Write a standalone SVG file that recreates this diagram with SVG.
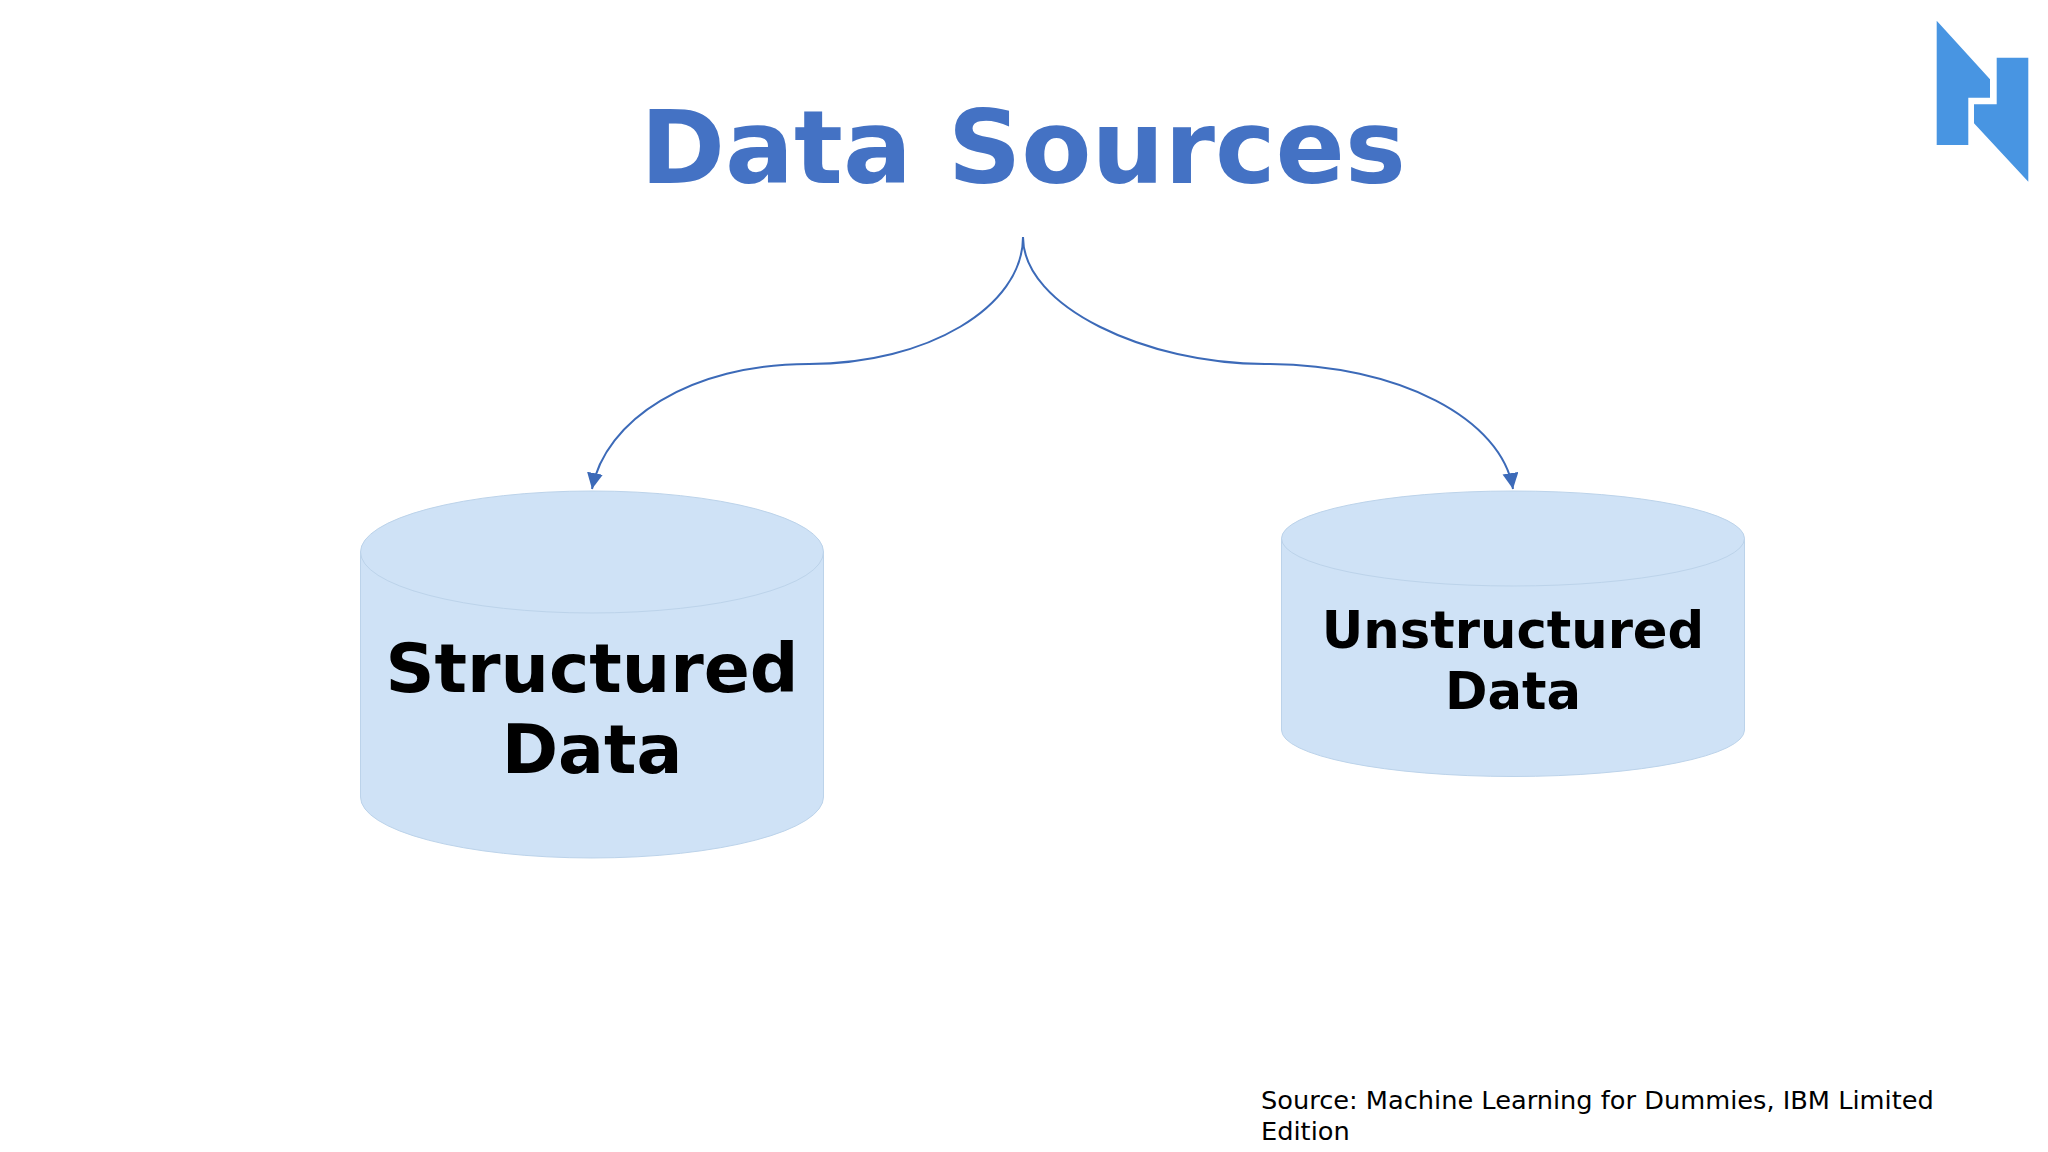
<svg xmlns="http://www.w3.org/2000/svg" width="2048" height="1152" viewBox="0 0 2048 1152">
<style>
.cyl{fill:#cfe2f6;stroke:#bcd3ea;stroke-width:1}
.lbl{font-family:"DejaVu Sans",sans-serif;font-weight:700;fill:#000;text-anchor:middle}
.conn{fill:none;stroke:#3c6ab8;stroke-width:2}
</style>
<defs>
<marker id="arr" markerUnits="userSpaceOnUse" markerWidth="20" markerHeight="20" refX="16" refY="8" orient="auto"><path d="M0 0L16 8L0 16Z" fill="#3c6ab8"/></marker>
</defs>
<rect width="2048" height="1152" fill="#fff"/>
<text id="title" x="1023" y="183" font-family="'DejaVu Sans',sans-serif" font-weight="700" font-size="102.300" fill="#4472c4" text-anchor="middle">Data Sources</text>
<g id="connectors">
<path class="conn" marker-end="url(#arr)" d="M1023 237C1023 307 927 364 809 364C690 364 605 420 592 489"/>
<path class="conn" marker-end="url(#arr)" d="M1023 237C1023 307 1147 364 1265 364C1401 364 1502 420 1513 489"/>
</g>
<g id="structured">
<path class="cyl" d="M360.500 552V797A231.500 61 0 0 0 823.500 797V552Z"/>
<ellipse class="cyl" cx="592" cy="552" rx="231.500" ry="61"/>
<text class="lbl" font-size="68" x="592" y="692">Structured</text>
<text class="lbl" font-size="68" x="592" y="773">Data</text>
</g>
<g id="unstructured">
<path class="cyl" d="M1281.500 538.500V730A231.500 46.500 0 0 0 1744.500 730V538.500Z"/>
<ellipse class="cyl" cx="1513" cy="538.500" rx="231.500" ry="47.500"/>
<text class="lbl" font-size="51.200" x="1513" y="647.500">Unstructured</text>
<text class="lbl" font-size="51.200" x="1513" y="708.500">Data</text>
</g>
<text id="source" font-family="'DejaVu Sans',sans-serif" font-size="25.650" fill="#000"><tspan x="1261" y="1109">Source: Machine Learning for Dummies, IBM Limited</tspan><tspan x="1261" y="1140">Edition</tspan></text>
<path id="logo" fill="#4895e2" d="M1936.700 20.700L1990 79.300V97.700H1968.300V145H1936.700ZM2028.300 57.700V181.700L1974 123.300V104.300H1996.700V57.700Z"/>
</svg>
